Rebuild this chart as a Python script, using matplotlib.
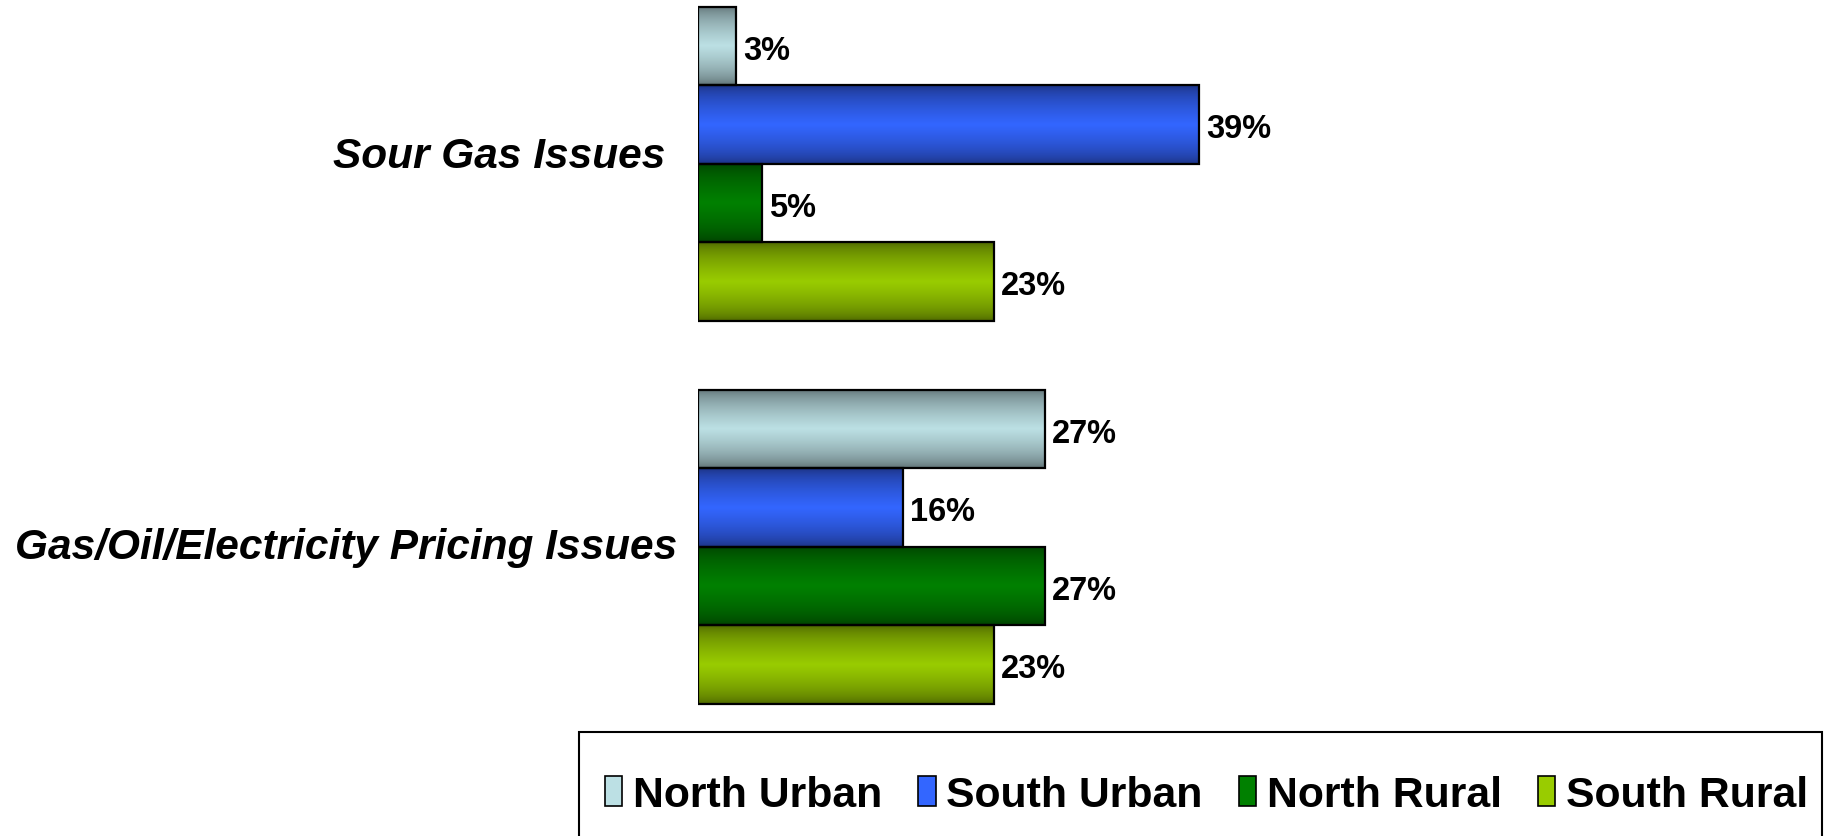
import numpy as np
import matplotlib
matplotlib.use("Agg")
import matplotlib.pyplot as plt
from matplotlib.colors import LinearSegmentedColormap
from matplotlib.patches import Rectangle

# ---- data ----
categories = ["Sour Gas Issues", "Gas/Oil/Electricity Pricing Issues"]
series = ["North Urban", "South Urban", "North Rural", "South Rural"]
north_urban = [3, 27]
south_urban = [39, 16]
north_rural = [5, 27]
south_rural = [23, 23]
values = [north_urban, south_urban, north_rural, south_rural]

mid_colors = ["#BCE0E4", "#3366FF", "#008000", "#99CC00"]
edge_colors = ["#56676A", "#1A2E78", "#003C00", "#485F00"]

plt.rcParams['font.family'] = ['Liberation Sans', 'DejaVu Sans']

W, H = 1826, 837
dpi = 100
fig = plt.figure(figsize=(W / dpi, H / dpi), dpi=dpi)

ax_left = 697.5
px_per_pct = 12.87
group_px = 383.0
center0_px = 164.8

ax = fig.add_axes([ax_left / W, 0, 1 - ax_left / W, 1])
xmax = (W - ax_left) / px_per_pct
ytop = -center0_px / group_px
ybot = (H - center0_px) / group_px

bar_h = 78.4 / group_px
y_centers = np.arange(len(categories))

# gradient profile (dark at top/bottom edges, bright in middle)
t = np.linspace(0, 1, 256)
prof = np.clip(1 - np.abs(2 * t - 1), 0, 1) ** 0.55

for i, (name, vals) in enumerate(zip(series, values)):
    offs = (i - 1.5) * bar_h
    bars = ax.barh(y_centers + offs, vals, height=bar_h, facecolor='none',
                   edgecolor='black', linewidth=1.6, zorder=3, label=name)
    cmap = LinearSegmentedColormap.from_list(f"g{i}", [edge_colors[i], mid_colors[i]])
    grad = prof.reshape(-1, 1)
    for r, v in zip(bars.patches, vals):
        x0, y0, w, h = r.get_x(), r.get_y(), r.get_width(), r.get_height()
        im = ax.imshow(grad, cmap=cmap, vmin=0, vmax=1, aspect='auto',
                       extent=[x0, x0 + w, y0 + h, y0], zorder=2,
                       interpolation='bicubic')
        im.set_clip_path(r)
        ax.annotate(f"{v}%", xy=(x0 + w, y0 + h / 2), xytext=(7, -4),
                    textcoords='offset pixels', ha='left', va='center',
                    fontsize=23.5, fontweight='bold', color='black', zorder=4)

ax.set_xlim(0, xmax)
ax.set_ylim(ybot, ytop)
ax.axis('off')

# category labels
label_offsets = [(-32, 8), (-20, 0)]
for yc, cat, (dx, dy) in zip(y_centers, categories, label_offsets):
    ax.annotate(cat, xy=(0, yc), xytext=(dx, dy), textcoords='offset pixels',
                ha='right', va='center', fontsize=30.5, fontweight='bold',
                fontstyle='italic', color='black', annotation_clip=False)

# legend
handles = [Rectangle((0, 0), 1, 1, facecolor=c, edgecolor='black', linewidth=1.2)
           for c in mid_colors]
leg = fig.legend(handles, series, loc='center left',
                 bbox_to_anchor=(605.0 / W, 1 - 796.0 / H), ncol=4,
                 frameon=False, borderpad=0, borderaxespad=0,
                 handlelength=0.4, handleheight=0.7, handletextpad=0.25,
                 columnspacing=0.85,
                 prop={'family': 'Liberation Sans', 'weight': 'bold', 'size': 30.8})

frame = Rectangle((579.0 / W, -0.05), (1822.0 - 579.0) / W, (1 - 732.5 / H) + 0.05,
                  transform=fig.transFigure, facecolor='none', edgecolor='black',
                  linewidth=1.5, clip_on=False)
fig.add_artist(frame)

fig.savefig("out.png", dpi=dpi, facecolor='white')
